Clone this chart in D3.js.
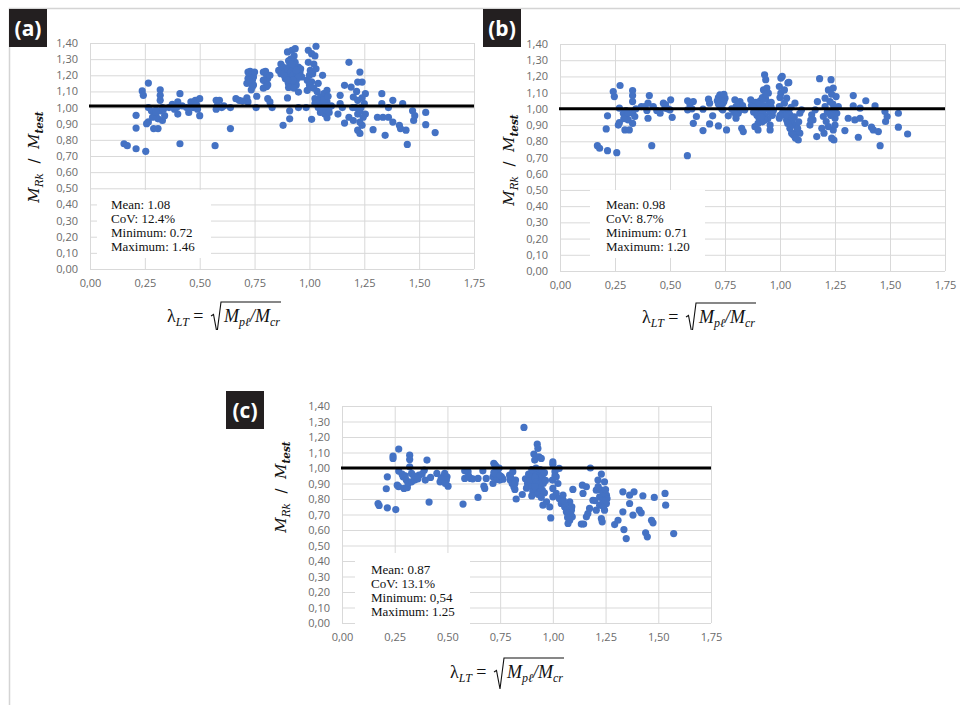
<!DOCTYPE html>
<html>
<head>
<meta charset="utf-8">
<script src="https://cdn.jsdelivr.net/npm/d3@7"></script>
<style>
html,body{margin:0;padding:0;background:#fff;}
svg{display:block;}
text{white-space:pre;}
</style>
</head>
<body>
<svg id="chart" width="960" height="705"></svg>
<script>
// ---------- DATA ----------
const xTicks = [0, 0.25, 0.5, 0.75, 1.0, 1.25, 1.5, 1.75];
const yTicks = [0, 0.1, 0.2, 0.3, 0.4, 0.5, 0.6, 0.7, 0.8, 0.9, 1.0, 1.1, 1.2, 1.3, 1.4];
const panelLabels = ["(a)", "(b)", "(c)"];
const refLines = [1.01, 1.0, 1.0];

const statsA = ["Mean: 1.08", "CoV: 12.4%", "Minimum: 0.72", "Maximum: 1.46"];
const statsB = ["Mean: 0.98", "CoV: 8.7%", "Minimum: 0.71", "Maximum: 1.20"];
const statsC = ["Mean: 0.87", "CoV: 13.1%", "Minimum: 0,54", "Maximum: 1.25"];

const pointsA = [
[0.155,0.776],[0.17,0.764],[0.21,0.745],[0.254,0.729],[0.21,0.873],[0.21,0.952],[0.238,1.103],[0.243,1.076],[0.266,1.152],[0.258,0.90],[0.266,0.911],[0.266,1.0],[0.28,0.98],[0.29,0.87],[0.31,0.87],[0.30,0.95],[0.31,0.93],[0.32,1.11],[0.32,1.076],[0.32,1.045],[0.32,0.98],[0.33,0.92],[0.34,0.95],[0.36,1.0],[0.38,1.01],[0.40,1.035],[0.40,0.96],[0.41,1.086],[0.41,0.776],[0.42,1.01],[0.45,0.97],[0.46,1.035],[0.47,1.0],[0.48,1.045],[0.50,1.055],[0.50,0.95],[0.49,0.99],[0.57,0.764],[0.575,1.045],[0.575,0.99],[0.59,1.045],[0.60,1.0],[0.64,0.87],[0.64,1.0],[0.665,1.055],[0.68,1.045],[0.715,1.06],[0.72,1.035],
[0.30,0.985],[0.285,0.94],[0.335,0.99],[0.385,0.99],[0.44,1.0],[0.485,1.02],[0.30,0.97],[0.33,1.0],[0.375,1.02],[0.395,1.0],[0.58,1.01],[0.61,1.01],[0.695,1.04],
[0.72,1.22],[0.73,1.20],[0.74,1.17],[0.72,1.18],[0.745,1.14],[0.735,1.11],[0.715,1.15],[0.73,1.225],[0.74,1.21],[0.725,1.19],[0.745,1.19],[0.73,1.16],[0.74,1.13],[0.725,1.17],[0.75,1.22],
[0.757,1.0],[0.76,1.07],
[0.79,1.22],[0.805,1.20],[0.80,1.16],[0.79,1.12],[0.805,1.13],[0.81,1.18],[0.80,1.225],[0.79,1.17],[0.81,1.14],[0.81,1.055],[0.83,1.0],[0.82,1.035],[0.82,1.2],
[0.86,1.23],[0.87,1.27],[0.88,1.25],[0.90,1.345],[0.92,1.355],[0.935,1.365],[0.93,1.32],[0.897,1.21],[0.91,1.19],[0.93,1.23],[0.94,1.17],[0.904,1.15],[0.92,1.13],[0.95,1.25],[0.957,1.22],[0.935,1.28],[0.965,1.19],[0.91,1.26],[0.89,1.18],[0.94,1.14],[0.88,1.22],[0.885,1.2],[0.90,1.24],[0.915,1.22],[0.925,1.2],[0.925,1.25],[0.945,1.21],[0.95,1.19],[0.905,1.29],[0.915,1.3],[0.935,1.15],[0.925,1.17],[0.9,1.17],[0.87,1.21],[0.96,1.24],[0.94,1.23],[0.92,1.27],[0.905,1.125],[0.93,1.12],
[0.90,1.06],[0.95,1.096],[0.88,0.89],[0.91,0.93],[0.91,0.98],[0.95,1.0],[0.985,1.0],
[0.995,1.355],[1.01,1.334],[1.03,1.38],[1.025,1.32],[0.995,1.28],[1.02,1.27],[1.004,1.23],[0.99,1.17],[1.01,1.16],[1.04,1.15],[0.99,1.107],[1.004,1.128],[1.06,1.20],[1.01,0.927],[1.025,1.055],[1.05,1.065],[1.065,1.086],[1.04,1.0],[1.06,0.98],[1.07,0.96],[1.08,0.937],[1.09,1.0],[1.08,1.035],[1.08,1.107],[1.05,0.97],[1.025,1.024],[1.0,1.2],[1.015,1.21],[1.03,1.24],[1.0,1.14],[1.02,1.12],[1.035,1.1],[1.045,1.04],[1.06,1.03],[1.07,1.01],[1.055,0.995],[1.075,0.985],[1.09,0.97],[1.065,1.05],[1.1,1.01],[1.085,1.07],
[1.13,0.96],[1.14,1.024],[1.14,1.076],[1.16,1.138],[1.18,1.28],[1.16,0.904],[1.18,0.94],[1.19,1.127],[1.2,1.065],[1.197,1.0],[1.22,1.158],[1.23,1.22],[1.24,1.158],[1.2,0.92],[1.22,0.96],[1.22,0.86],[1.23,0.84],[1.24,0.89],[1.23,0.91],[1.25,1.024],[1.255,1.086],[1.255,0.96],[1.22,1.045],[1.21,1.0],[1.23,0.98],[1.24,1.06],[1.215,1.1],[1.245,0.94],[1.15,1.0],[1.235,1.0],
[1.29,0.863],[1.31,0.94],[1.33,1.086],[1.33,1.024],[1.335,0.94],[1.345,0.828],[1.36,0.94],[1.36,1.0],[1.38,1.045],[1.38,0.91],[1.41,0.89],[1.415,0.87],[1.425,1.024],[1.44,0.86],[1.446,0.772],[1.47,0.98],[1.475,0.92],[1.48,0.95],[1.53,0.97],[1.53,0.894],[1.573,0.845]
];

const pointsB = [
[0.17,0.773],[0.18,0.757],[0.216,0.742],[0.258,0.73],[0.21,0.876],[0.216,0.957],[0.242,1.107],[0.247,1.076],[0.273,1.144],[0.265,0.90],[0.27,0.915],[0.27,1.004],[0.288,0.973],[0.295,0.87],[0.315,0.87],[0.30,0.953],[0.31,0.932],[0.33,1.113],[0.33,1.082],[0.33,1.045],[0.33,0.973],[0.33,0.91],[0.34,0.953],[0.37,1.014],[0.386,1.014],[0.40,1.035],[0.40,0.942],[0.406,1.082],[0.417,0.773],[0.424,1.014],[0.455,0.973],[0.47,1.035],[0.477,1.004],[0.48,1.025],[0.503,1.056],[0.51,0.948],[0.50,0.994],[0.579,0.711],[0.58,1.05],[0.58,0.994],[0.606,1.045],[0.606,0.911],[0.62,0.953],[0.65,0.866],[0.65,0.998],[0.675,1.06],[0.68,1.035],[0.694,0.957],[0.68,0.907],[0.72,0.895],
[0.30,0.99],[0.29,0.94],[0.345,1.0],[0.395,0.99],[0.44,0.99],[0.49,1.0],[0.31,0.975],[0.6,1.0],[0.59,1.03],
[0.727,1.087],[0.735,1.056],[0.74,1.035],[0.727,1.014],[0.75,1.066],[0.74,0.994],[0.757,0.87],[0.765,0.957],[0.72,1.07],[0.73,1.08],[0.745,1.045],[0.73,1.025],[0.715,1.05],[0.745,1.09],[0.735,1.0],[0.72,1.03],
[0.795,1.056],[0.80,1.014],[0.81,0.973],[0.818,1.045],[0.80,0.942],[0.826,0.88],[0.833,0.86],[0.84,0.994],[0.82,0.994],[0.79,0.98],[0.81,1.03],[0.83,1.02],[0.78,1.0],[0.8,0.96],
[0.867,1.056],[0.886,0.89],[0.90,0.87],[0.91,1.014],[0.93,1.21],[0.935,1.18],[0.925,1.117],[0.94,1.128],[0.947,1.097],[0.955,0.87],[0.955,0.90],[0.87,1.02],[0.88,0.98],[0.89,1.04],[0.895,0.96],[0.9,1.0],[0.905,0.94],[0.91,1.05],[0.915,0.98],[0.92,0.92],[0.925,1.02],[0.93,0.96],[0.935,1.06],[0.94,1.0],[0.945,0.94],[0.95,1.03],[0.955,0.98],[0.96,1.01],[0.965,0.96],[0.89,1.0],[0.9,1.03],[0.92,0.99],[0.92,1.07],[0.935,1.09],[0.9,0.91],[0.93,0.93],[0.96,1.04],[0.97,0.99],[0.88,1.01],[0.915,0.95],
[1.004,1.19],[0.997,1.138],[1.004,1.097],[1.02,1.117],[1.04,1.163],[1.03,1.066],[1.02,1.035],[0.997,1.014],[1.01,0.973],[0.997,0.942],[1.03,0.932],[1.045,0.963],[1.068,1.035],[1.045,0.88],[1.053,0.85],[1.068,0.829],[1.083,0.808],[1.076,0.86],[1.09,0.85],[1.06,0.90],[1.09,0.973],[1.098,0.994],[1.01,1.2],[1.036,1.16],[1.0,1.07],[1.015,0.99],[1.025,0.96],[1.04,0.99],[1.055,0.93],[1.065,0.95],[1.075,0.9],[1.08,0.88],[1.06,0.84],[1.07,0.82],[1.085,0.92],[1.05,1.01],[1.035,0.91],[1.0,0.96],
[1.144,0.963],[1.136,0.90],[1.15,0.932],[1.16,0.994],[1.167,0.829],[1.17,1.045],[1.18,1.186],[1.19,0.88],[1.205,1.066],[1.205,1.014],[1.197,0.953],[1.21,0.922],[1.22,1.117],[1.232,1.18],[1.235,0.819],[1.245,0.808],[1.242,0.87],[1.25,0.942],[1.258,0.973],[1.265,1.014],[1.242,1.128],[1.255,1.076],[1.242,0.994],[1.227,1.045],[1.22,0.89],[1.23,0.96],[1.24,1.03],[1.215,0.98],[1.25,0.9],[1.235,1.09],[1.2,0.85],[1.14,0.93],
[1.295,0.866],[1.31,0.942],[1.333,1.082],[1.333,1.018],[1.34,0.932],[1.356,0.825],[1.364,0.942],[1.364,1.004],[1.386,0.911],[1.39,1.05],[1.416,0.887],[1.424,0.87],[1.432,1.018],[1.447,0.86],[1.455,0.773],[1.477,0.983],[1.48,0.922],[1.487,0.953],[1.538,0.973],[1.538,0.887],[1.58,0.845]
];

const pointsC = [
[0.171,0.771],[0.176,0.758],[0.215,0.743],[0.255,0.732],[0.21,0.866],[0.215,0.943],[0.242,1.077],[0.242,1.062],[0.269,1.122],[0.262,0.889],[0.269,0.879],[0.269,0.98],[0.29,0.943],[0.294,0.868],[0.31,0.874],[0.305,0.922],[0.313,0.90],[0.321,1.083],[0.321,1.055],[0.321,1.008],[0.33,0.965],[0.33,0.911],[0.345,0.922],[0.365,0.954],[0.38,0.961],[0.39,0.986],[0.395,0.922],[0.403,1.051],[0.413,0.78],[0.42,0.939],[0.45,0.965],[0.465,0.911],[0.479,0.943],[0.487,0.965],[0.498,0.943],[0.503,0.883],[0.495,0.922],[0.574,0.767],[0.582,0.982],[0.582,0.933],[0.598,0.976],[0.61,0.933],[0.62,0.930],[0.645,0.81],[0.645,0.933],[0.668,0.982],[0.673,0.883],[0.677,0.868],[0.684,0.933],[0.716,0.90],
[0.3,0.95],[0.34,0.95],[0.36,0.93],[0.47,0.93],[0.49,0.9],[0.6,0.95],[0.285,0.96],
[0.72,1.03],[0.73,1.012],[0.732,0.986],[0.716,0.943],[0.74,0.965],[0.735,0.926],[0.748,0.922],[0.756,0.943],[0.764,0.928],[0.725,1.02],[0.745,1.0],[0.73,0.96],[0.72,0.97],[0.75,0.95],
[0.795,0.954],[0.798,0.922],[0.807,0.90],[0.815,0.879],[0.82,0.862],[0.826,0.80],[0.823,0.922],[0.81,0.976],[0.8,0.94],[0.82,0.9],
[0.855,0.829],[0.863,1.262],[0.91,1.09],[0.926,1.154],[0.929,1.126],[0.934,1.072],[0.914,1.051],[0.945,1.062],[0.93,0.965],[0.945,0.933],[0.95,0.857],[0.953,0.76],[0.97,0.782],[0.87,0.93],[0.88,0.9],[0.875,0.87],[0.89,0.95],[0.895,0.92],[0.9,0.88],[0.905,0.85],[0.91,0.97],[0.915,0.94],[0.92,0.91],[0.925,0.86],[0.93,0.83],[0.935,0.9],[0.94,0.99],[0.94,0.87],[0.95,0.95],[0.955,0.9],[0.96,0.97],[0.965,0.92],[0.96,0.84],[0.885,0.96],[0.9,0.99],[0.92,1.0],[0.9,0.82],[0.915,0.88],[0.945,0.81],
[0.99,0.678],[0.985,0.749],[1.0,1.04],[1.01,0.976],[1.016,0.943],[0.998,0.922],[1.0,0.868],[1.016,0.836],[1.024,0.90],[1.0,0.814],[1.03,0.803],[1.03,0.997],[1.04,0.771],[1.056,0.749],[1.064,0.717],[1.072,0.696],[1.072,0.642],[1.08,0.663],[1.088,0.728],[1.08,0.782],[1.092,0.685],[1.048,0.825],[1.095,0.862],[1.0,1.025],[1.01,0.95],[1.06,0.76],[1.065,0.73],[1.075,0.71],[1.05,0.79],[1.085,0.7],[1.09,0.75],[1.07,0.68],
[1.135,0.638],[1.146,0.638],[1.143,0.836],[1.14,0.889],[1.159,0.685],[1.166,0.706],[1.174,0.739],[1.159,0.879],[1.178,1.0],[1.19,0.792],[1.206,0.857],[1.214,0.922],[1.206,0.728],[1.222,0.76],[1.23,0.674],[1.234,0.653],[1.222,0.814],[1.23,0.961],[1.245,0.911],[1.254,0.825],[1.254,0.771],[1.245,0.728],[1.237,0.792],[1.257,0.803],[1.23,0.857],[1.24,0.84],[1.25,0.79],[1.24,0.75],[1.215,0.88],[1.25,0.86],[1.2,0.79],
[1.293,0.635],[1.309,0.663],[1.332,0.846],[1.332,0.717],[1.337,0.603],[1.348,0.545],[1.364,0.825],[1.364,0.771],[1.385,0.846],[1.38,0.696],[1.41,0.728],[1.419,0.711],[1.427,0.821],[1.44,0.582],[1.448,0.556],[1.468,0.663],[1.475,0.646],[1.481,0.81],[1.532,0.836],[1.535,0.76],[1.573,0.577]
];

// ---------- LAYOUT ----------
const panels = [
  {pts: pointsA, stats: statsA, label: panelLabels[0], ref: refLines[0],
   x0: 90, x1: 474, yb: 269, yt: 43, lab: [9, 9],
   box: [97, 190, 114, 68], statX: 111, statY: 208.5,
   yTitle: [39, 157], xTitle: [167, 322], clip: 330},
  {pts: pointsB, stats: statsB, label: panelLabels[1], ref: refLines[1],
   x0: 560, x1: 945, yb: 271, yt: 44, lab: [483, 9],
   box: [590, 190, 115, 68], statX: 606, statY: 208.5,
   yTitle: [514, 160], xTitle: [642, 323], clip: 330},
  {pts: pointsC, stats: statsC, label: panelLabels[2], ref: refLines[2],
   x0: 342, x1: 711, yb: 623, yt: 406, lab: [226, 391],
   box: [355, 553, 115, 74], statX: 371, statY: 573.5,
   yTitle: [286, 487], xTitle: [450, 678], clip: null}
];

const svg = d3.select("#chart");
const fmt = d => d3.format(".2f")(d).replace(".", ",");

// figure frame
svg.append("path").attr("d", "M9.5,705 V8.5 H960")
  .attr("fill", "none").attr("stroke", "#d4d4d4").attr("stroke-width", 1.5);

const defs = svg.append("defs");

panels.forEach((p, i) => {
  let g = svg.append("g");
  if (p.clip) {
    defs.append("clipPath").attr("id", "clip" + i)
      .append("rect").attr("x", 0).attr("y", 0).attr("width", 960).attr("height", p.clip);
    g.attr("clip-path", `url(#clip${i})`);
  }
  const x = d3.scaleLinear().domain([0, 1.75]).range([p.x0, p.x1]);
  const y = d3.scaleLinear().domain([0, 1.4]).range([p.yb, p.yt]);
  const w = p.x1 - p.x0, h = p.yb - p.yt;

  const ya = g.append("g").attr("transform", `translate(${p.x0},0)`)
    .call(d3.axisLeft(y).tickValues(yTicks).tickSize(-w).tickPadding(12).tickFormat(fmt));
  const xa = g.append("g").attr("transform", `translate(0,${p.yb})`)
    .call(d3.axisBottom(x).tickValues(xTicks).tickSize(-h).tickPadding(12).tickFormat(fmt));
  [ya, xa].forEach(a => {
    a.select(".domain").remove();
    a.selectAll(".tick line").attr("stroke", "#d9d9d9").attr("stroke-width", 1);
    a.selectAll(".tick text").attr("fill", "#6b6b6b")
      .style("font-family", "'Open Sans', sans-serif").style("font-size", "11px");
  });
  xa.selectAll(".tick text").attr("dy", "0.71em").attr("y", 10);

  // stats box (white, hides gridlines)
  g.append("rect").attr("x", p.box[0]).attr("y", p.box[1])
    .attr("width", p.box[2]).attr("height", p.box[3]).attr("fill", "#fff");

  // points
  g.append("g").selectAll("circle").data(p.pts).join("circle")
    .attr("cx", d => x(d[0])).attr("cy", d => y(d[1])).attr("r", 3.6)
    .attr("fill", "#4472C4");

  // reference line
  g.append("line").attr("x1", p.x0 - 1).attr("x2", p.x1)
    .attr("y1", y(p.ref)).attr("y2", y(p.ref))
    .attr("stroke", "#000").attr("stroke-width", 3);

  // stats text
  g.append("g").selectAll("text").data(p.stats).join("text")
    .attr("x", p.statX).attr("y", (d, k) => p.statY + k * 14)
    .style("font-family", "'Liberation Serif', 'Times New Roman', serif")
    .style("font-size", "13px").attr("fill", "#111").text(d => d);

  // panel label
  g.append("rect").attr("x", p.lab[0]).attr("y", p.lab[1]).attr("width", 38).attr("height", 38)
    .attr("fill", "#231f20");
  g.append("text").attr("x", p.lab[0] + 19).attr("y", p.lab[1] + 26.5)
    .attr("text-anchor", "middle").attr("fill", "#fff")
    .style("font-family", "'Open Sans', sans-serif").style("font-weight", "700")
    .style("font-size", "21px").text(p.label);

  // y title
  const yt = g.append("text")
    .attr("transform", `translate(${p.yTitle[0]},${p.yTitle[1]}) rotate(-90)`)
    .attr("text-anchor", "middle").attr("fill", "#111")
    .style("font-family", "'DejaVu Serif', serif").style("font-style", "italic")
    .style("font-size", "15px");
  yt.append("tspan").text("M");
  yt.append("tspan").attr("dy", 4).style("font-size", "10.5px").text("Rk");
  yt.append("tspan").attr("dy", -4).style("font-style", "normal").text("  /  ");
  yt.append("tspan").text("M");
  yt.append("tspan").attr("dy", 4).style("font-size", "10.5px").style("font-weight", "bold").text("test");

  // x title
  const bx = p.xTitle[0], by = p.xTitle[1];
  const serif = "'Liberation Serif', 'Times New Roman', serif";
  const t1 = g.append("text").attr("x", bx).attr("y", by).attr("fill", "#111")
    .style("font-family", serif).style("font-size", "18px");
  t1.append("tspan").text("λ");
  t1.append("tspan").attr("dy", 4).style("font-size", "12px").style("font-style", "italic").text("LT");
  t1.append("tspan").attr("dy", -4).text(" = ");
  const w1 = t1.node().getComputedTextLength();
  const r0 = bx + w1 + 3;
  const t2 = g.append("text").attr("x", r0 + 13).attr("y", by).attr("fill", "#111")
    .style("font-family", serif).style("font-size", "18px").style("font-style", "italic");
  t2.append("tspan").text("M");
  t2.append("tspan").attr("dy", 4).style("font-size", "12px").text("pℓ");
  t2.append("tspan").attr("dy", -4).text("/M");
  t2.append("tspan").attr("dy", 4).style("font-size", "12px").text("cr");
  const w2 = t2.node().getComputedTextLength();
  g.append("path")
    .attr("d", `M${r0},${by - 6} L${r0 + 2.5},${by - 7.5} L${r0 + 6},${by + 11} L${r0 + 10},${by - 20} L${r0 + 13 + w2 + 1},${by - 20}`)
    .attr("fill", "none").attr("stroke", "#111").attr("stroke-width", 1.1);
});
</script>
</body>
</html>
